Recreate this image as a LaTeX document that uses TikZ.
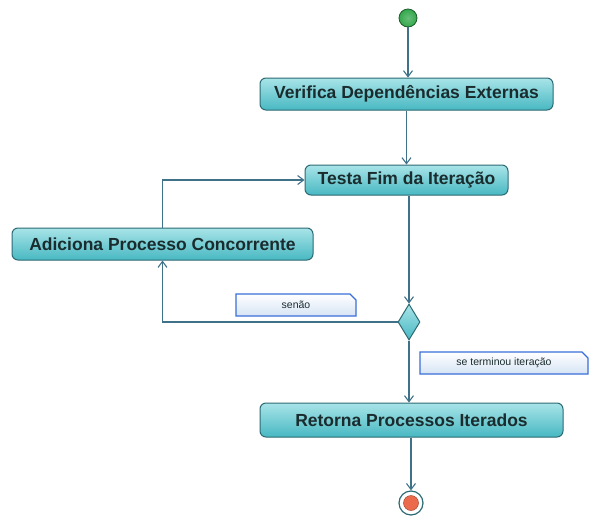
\documentclass[tikz,border=0pt]{standalone}
\usepackage{fontspec}
\setmainfont{Liberation Sans}
\usetikzlibrary{arrows.meta,shapes.geometric,shapes.misc}
\definecolor{boxtop}{HTML}{A8E4E8}
\definecolor{boxbot}{HTML}{48B8C2}
\definecolor{boxline}{HTML}{2C6A74}
\definecolor{flowline}{HTML}{3F7288}
\definecolor{noteline}{HTML}{3A6FD8}
\definecolor{notefill}{HTML}{D6E4F4}
\definecolor{txt}{HTML}{1A2C2E}
\definecolor{startg}{HTML}{34A84C}
\definecolor{endr}{HTML}{EC6A4C}
\begin{document}
\begin{tikzpicture}[x=1pt,y=-1pt,
  act/.style={rectangle, rounded corners=6pt, draw=boxline, line width=1pt,
    top color=boxtop, bottom color=boxbot, text=txt,
    font=\fontsize{17.5}{19}\selectfont\bfseries, inner sep=0pt},
  dec/.style={diamond, draw=boxline, line width=1pt, top color=boxtop, bottom color=boxbot,
    minimum width=22pt, minimum height=36pt, inner sep=0pt},
  note/.style={chamfered rectangle, chamfered rectangle corners=north east,
    chamfered rectangle xsep=3pt, chamfered rectangle ysep=3pt,
    draw=noteline, line width=1.2pt, top color=white, bottom color=notefill,
    font=\fontsize{10.5}{12}\selectfont, text=txt, inner sep=0pt},
  flow/.style={draw=flowline, line width=1.1pt, -{Straight Barb[length=6pt,width=9pt]}},
  startn/.style={circle, minimum size=18pt, inner sep=0pt, inner color=startg!75!white, outer color=startg, draw=startg!55!black, line width=0.8pt},
  endo/.style={circle, minimum size=24pt, inner sep=0pt, draw=boxline, line width=1.2pt, fill=white},
  endi/.style={circle, minimum size=15pt, inner sep=0pt, fill=endr, draw=endr!70!black, line width=0.5pt}
]
\useasboundingbox[fill=white] (0,0) rectangle (590,520);

\node[startn] (start) at (408,18) {};
\node[act, minimum width=293pt, minimum height=32pt] (verif) at (406.5,94) {Verifica Dependências Externas};
\node[act, minimum width=203pt, minimum height=30pt] (testa) at (406.5,180) {Testa Fim da Iteração};
\node[act, minimum width=301pt, minimum height=32pt] (adic) at (162.5,244) {Adiciona Processo Concorrente};
\node[dec] (dec) at (409,322) {};
\node[act, minimum width=303pt, minimum height=34pt] (ret) at (411.5,420) {Retorna Processos Iterados};
\node[endo] (endn) at (411,503) {};
\node[endi] (endin) at (411,503) {};

\node[note, minimum width=120pt, minimum height=22pt] (n1) at (296,305) {senão};
\node[note, minimum width=168pt, minimum height=22pt] (n2) at (504,363) {se terminou iteração};

\draw[flow] (start.south) -- (start.south |- verif.north);
\draw[flow] (verif.south) -- (testa.north);
\draw[flow] (testa.south -| dec.north) -- (dec.north);
\draw[flow] (dec.west) -| (adic.south);
\draw[flow] (adic.north) |- (testa.west);
\draw[flow] (dec.south) -- (dec.south |- ret.north);
\draw[flow] (ret.south -| endn.north) -- (endn.north);
\end{tikzpicture}
\end{document}
